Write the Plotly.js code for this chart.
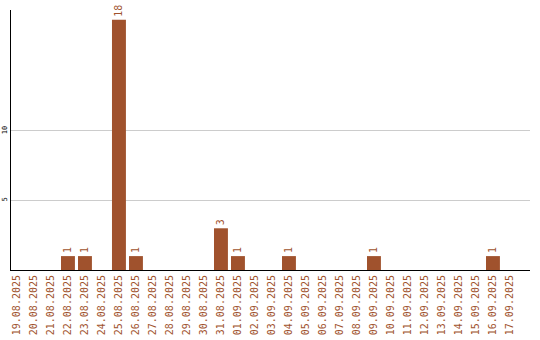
<!DOCTYPE html>
<html><head><meta charset="utf-8">
<script src="https://cdn.plot.ly/plotly-3.0.1.min.js"></script>
<style>html,body{margin:0;padding:0;background:#fff}#c{width:540px;height:340px}</style>
</head><body><div id="c"></div>
<script>
const dates = ["19.08.2025","20.08.2025","21.08.2025","22.08.2025","23.08.2025","24.08.2025","25.08.2025","26.08.2025","27.08.2025","28.08.2025","29.08.2025","30.08.2025","31.08.2025","01.09.2025","02.09.2025","03.09.2025","04.09.2025","05.09.2025","06.09.2025","07.09.2025","08.09.2025","09.09.2025","10.09.2025","11.09.2025","12.09.2025","13.09.2025","14.09.2025","15.09.2025","16.09.2025","17.09.2025"];
const counts = [0,0,0,1,1,0,18,1,0,0,0,0,3,1,0,0,1,0,0,0,0,1,0,0,0,0,0,0,1,0];
const yTicks = [5,10];
const color = "#A0522D";
const idx = dates.map((d,i)=>i);
const labels = counts.map(v => v>0 ? String(v) : "");
Plotly.newPlot("c",[{
  type:"bar", x:idx, y:counts, marker:{color:color},
  text:labels, textposition:"outside", textangle:-90, cliponaxis:false,
  textfont:{family:"DejaVu Sans Mono", size:10, color:color},
  hoverinfo:"none"
}],{
  width:540, height:340,
  margin:{l:11,r:10,t:10,b:70},
  paper_bgcolor:"#fff", plot_bgcolor:"#fff",
  bargap:0.18, showlegend:false,
  font:{family:"DejaVu Sans Mono", size:10},
  xaxis:{range:[-0.35,30.18], tickvals:idx, ticktext:dates, tickangle:-90,
    tickfont:{family:"DejaVu Sans Mono", size:10, color:color},
    showgrid:false, zeroline:false, showline:true, linecolor:"#000", linewidth:1, ticks:"", fixedrange:true},
  yaxis:{range:[0,18.7], tickvals:yTicks, ticktext:yTicks.map(String), tickangle:-90,
    tickfont:{family:"DejaVu Sans Mono", size:7, color:"#000"},
    showgrid:true, gridcolor:"#cccccc", gridwidth:1, zeroline:false,
    showline:true, linecolor:"#000", linewidth:1, ticks:"", fixedrange:true}
},{displayModeBar:false, staticPlot:true});
</script></body></html>
